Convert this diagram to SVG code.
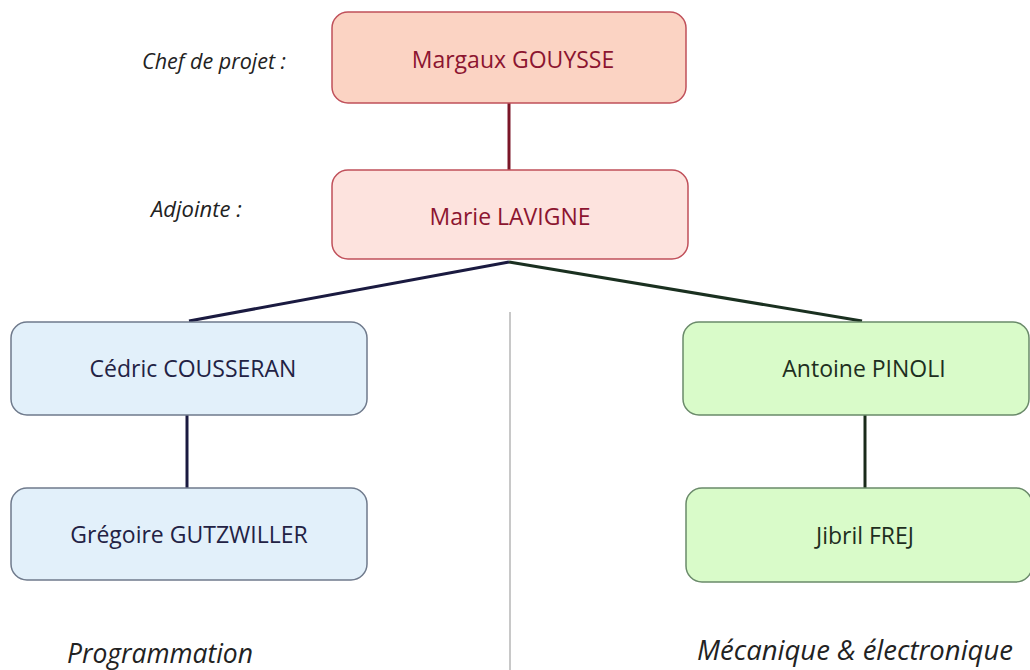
<svg xmlns="http://www.w3.org/2000/svg" width="1030" height="670" viewBox="0 0 1030 670">
<style>
text{font-family:"Open Sans","Liberation Sans",sans-serif}
.name{font-size:23px;text-anchor:middle}
.lab{font-style:italic;fill:#222}
.red rect{fill:#fbd3c3;stroke:#c0505a;stroke-width:1.5}
.pink rect{fill:#fde3de;stroke:#c0505a;stroke-width:1.5}
.red text,.pink text{fill:#8c1530}
.blue rect{fill:#e2f0fa;stroke:#6f7a8c;stroke-width:1.5}
.blue text{fill:#222244}
.green rect{fill:#d9fbc9;stroke:#6a8a6a;stroke-width:1.5}
.green text{fill:#1e2e1e}
</style>
<rect width="1030" height="670" fill="#fff"/>
<line x1="510" y1="312" x2="510" y2="670" stroke="#c8c8c8" stroke-width="2"/>
<g id="connectors" fill="none" stroke-width="3">
<line x1="509" y1="103" x2="509" y2="170" stroke="#7a1628"/>
<line x1="509" y1="262" x2="189" y2="321" stroke="#1a1a40"/>
<line x1="509" y1="262" x2="862" y2="321" stroke="#1a3020"/>
<line x1="187" y1="415" x2="187" y2="488" stroke="#1a1a40"/>
<line x1="865" y1="415" x2="865" y2="488" stroke="#1a2a1a"/>
</g>
<g id="n-margaux" class="red"><rect x="332" y="12" width="354" height="91" rx="16"/><text class="name" x="513" y="68">Margaux GOUYSSE</text></g>
<g id="n-marie" class="pink"><rect x="332" y="170" width="356" height="89" rx="16"/><text class="name" x="510" y="225">Marie LAVIGNE</text></g>
<g id="n-cedric" class="blue"><rect x="11" y="322" width="356" height="93" rx="16"/><text class="name" x="193" y="377">Cédric COUSSERAN</text></g>
<g id="n-gregoire" class="blue"><rect x="11" y="488" width="356" height="92" rx="16"/><text class="name" x="189" y="543">Grégoire GUTZWILLER</text></g>
<g id="n-antoine" class="green"><rect x="683" y="322" width="346" height="93" rx="16"/><text class="name" x="864" y="377">Antoine PINOLI</text></g>
<g id="n-jibril" class="green"><rect x="686" y="488" width="346" height="94" rx="16"/><text class="name" x="865" y="544">Jibril FREJ</text></g>
<text class="lab" x="142" y="69" font-size="21.5">Chef de projet :</text>
<text class="lab" x="151" y="217" font-size="22">Adjointe :</text>
<text class="lab" x="67" y="663" font-size="27" textLength="186" lengthAdjust="spacingAndGlyphs">Programmation</text>
<text class="lab" x="697" y="660" font-size="27" textLength="316" lengthAdjust="spacingAndGlyphs">Mécanique &amp; électronique</text>
</svg>
